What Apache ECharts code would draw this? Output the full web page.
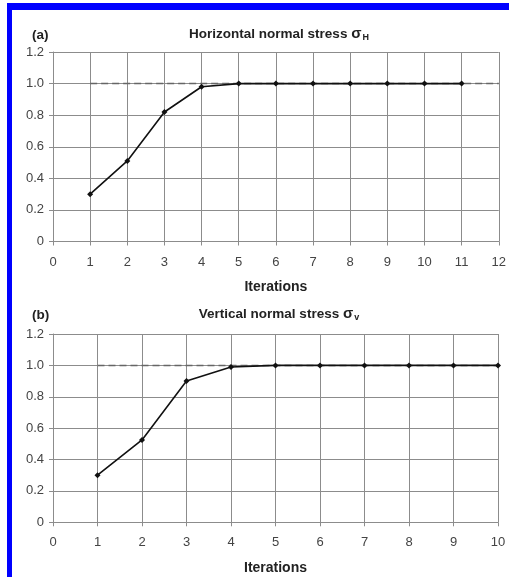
<!DOCTYPE html>
<html><head><meta charset="utf-8">
<script src="https://cdn.jsdelivr.net/npm/echarts@6/dist/echarts.min.js"></script>
<style>html,body{margin:0;padding:0;background:#fff}#c{width:509px;height:577px}</style>
</head><body><div id="c"></div>
<script>
// Panel (a): horizontal normal stress
const iterA = [1,2,3,4,5,6,7,8,9,10,11];
const stressH = [0.30,0.51,0.82,0.98,1.0,1.0,1.0,1.0,1.0,1.0,1.0];
const refA_x = [1,12];
const refA_y = [1.0,1.0];
// Panel (b): vertical normal stress
const iterB = [1,2,3,4,5,6,7,8,9,10];
const stressV = [0.30,0.525,0.90,0.99,1.0,1.0,1.0,1.0,1.0,1.0];
const refB_x = [1,10];
const refB_y = [1.0,1.0];
const xMaxA = 12, xMaxB = 10;
const yMax = 1.2, yStep = 0.2;

const FONT = '"Liberation Sans", Arial, sans-serif';
const gridCol = '#8c8c8c';
const textCol = '#444';

function pairs(xs, ys){ return xs.map((x,i)=>[x, ys[i]]); }

function xAxis(gi, max){
  return {
    type:'value', gridIndex:gi, min:0, max:max, interval:1,
    name:'Iterations', nameLocation:'middle', nameGap:39,
    nameTextStyle:{fontFamily:FONT, fontWeight:'bold', fontSize:14, color:'#222'},
    axisLine:{show:true, lineStyle:{color:gridCol, width:1}},
    axisTick:{show:true, length:4, lineStyle:{color:gridCol}},
    axisLabel:{fontFamily:FONT, fontSize:13, color:textCol, margin:14},
    splitLine:{show:true, lineStyle:{color:gridCol, width:1}}
  };
}
function yAxis(gi){
  return {
    type:'value', gridIndex:gi, min:0, max:yMax, interval:yStep,
    axisLine:{show:true, lineStyle:{color:gridCol, width:1}},
    axisTick:{show:true, length:4, lineStyle:{color:gridCol}},
    axisLabel:{fontFamily:FONT, fontSize:13, color:textCol, margin:9,
      formatter:v=> v===0 ? '0' : v.toFixed(1)},
    splitLine:{show:true, lineStyle:{color:gridCol, width:1}}
  };
}
function dataSeries(gi, xs, ys){
  return {type:'line', xAxisIndex:gi, yAxisIndex:gi, data:pairs(xs,ys),
    symbol:'diamond', symbolSize:6, showSymbol:true,
    lineStyle:{color:'#111', width:1.6}, itemStyle:{color:'#111'}, z:5, animation:false};
}
function refSeries(gi, xs, ys){
  return {type:'line', xAxisIndex:gi, yAxisIndex:gi, data:pairs(xs,ys),
    symbol:'none', lineStyle:{color:'#666', width:1.5, type:[7,4]}, z:4, animation:false};
}
function titleRich(){
  return {s:{fontFamily:FONT, fontSize:15, fontWeight:'bold', color:'#222'},
          sub:{fontFamily:FONT, fontSize:9, fontWeight:'bold', color:'#222', padding:[7,0,0,1]}};
}

const chart = echarts.init(document.getElementById('c'), null, {renderer:'canvas'});
chart.setOption({
  backgroundColor:'#fff',
  animation:false,
  title:[
    {text:'(a)', left:27, top:23, textStyle:{fontFamily:FONT, fontSize:13.5, fontWeight:'bold', color:'#222'}},
    {text:'Horizontal normal stress {s|σ}{sub|H}', left:274, top:21, textAlign:'center',
      textStyle:{fontFamily:FONT, fontSize:13.5, fontWeight:'bold', color:'#222', rich:titleRich()}},
    {text:'(b)', left:27, top:303, textStyle:{fontFamily:FONT, fontSize:13.5, fontWeight:'bold', color:'#222'}},
    {text:'Vertical normal stress {s|σ}{sub|v}', left:274, top:301, textAlign:'center',
      textStyle:{fontFamily:FONT, fontSize:13.5, fontWeight:'bold', color:'#222', rich:titleRich()}}
  ],
  grid:[
    {left:53, right:10, top:52, height:189.5},
    {left:53, right:11, top:334, height:188.3}
  ],
  xAxis:[xAxis(0, xMaxA), xAxis(1, xMaxB)],
  yAxis:[yAxis(0), yAxis(1)],
  series:[
    refSeries(0, refA_x, refA_y), dataSeries(0, iterA, stressH),
    refSeries(1, refB_x, refB_y), dataSeries(1, iterB, stressV)
  ],
  graphic:[
    {type:'rect', shape:{x:7, y:3, width:502, height:7}, style:{fill:'#0000ff'}, silent:true},
    {type:'rect', shape:{x:7, y:3, width:5, height:574}, style:{fill:'#0000ff'}, silent:true}
  ]
});
</script></body></html>
